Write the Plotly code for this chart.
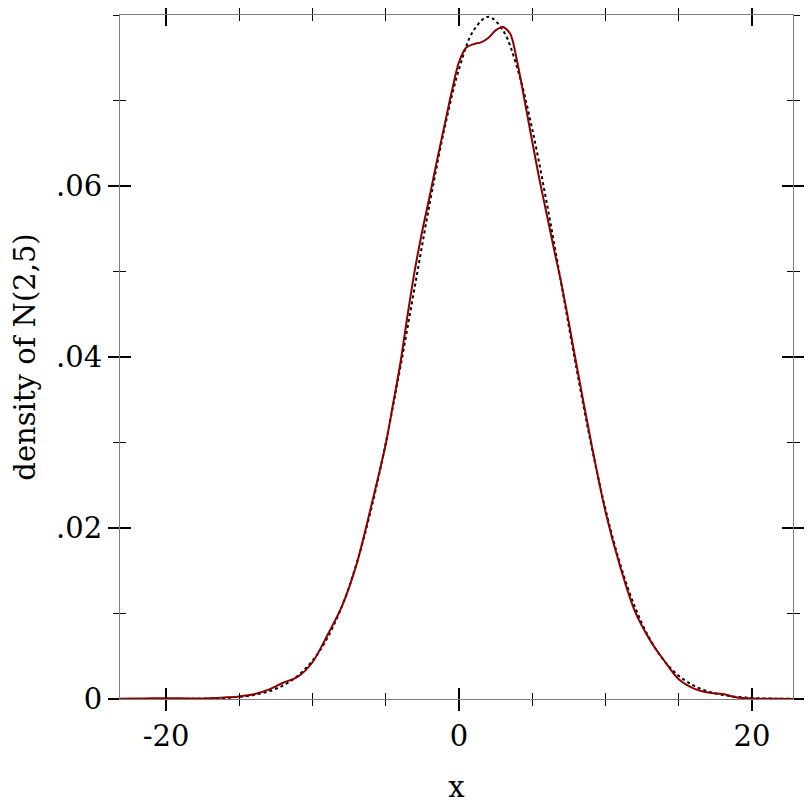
import plotly.graph_objects as go

# dotted reference curve: density of N(2,5) read at integer x
norm_x = [-23.14, -22, -21, -20, -19, -18, -17, -16, -15, -14, -13, -12, -11, -10, -9, -8, -7, -6, -5,
          -4, -3, -2, -1, 0, 1, 2, 3, 4, 5, 6, 7, 8, 9, 10, 11, 12, 13, 14, 15, 16, 17,
          18, 19, 20, 21, 22, 22.8]
norm_y = [0.0000002, 0.0000008, 0.000002, 0.000005, 0.0000118, 0.0000268, 0.0000584, 0.000122, 0.000246,
          0.000477, 0.000886, 0.001583, 0.002717, 0.004479, 0.007095, 0.010798, 0.015790, 0.022184,
          0.029945, 0.038837, 0.048394, 0.057938, 0.066645, 0.073654, 0.078209, 0.079788, 0.078209,
          0.073654, 0.066645, 0.057938, 0.048394, 0.038837, 0.029945, 0.022184, 0.015790, 0.010798,
          0.007095, 0.004479, 0.002717, 0.001583, 0.000886, 0.000477, 0.000246, 0.000122, 0.0000584,
          0.0000268, 0.000013]

# estimated density (red)
kde_x = [-23.14, -22, -21, -20, -19, -18, -17, -16, -15, -14, -13, -12, -11, -10, -9, -8, -7, -6, -5,
         -4.5, -4, -3.5, -3, -2.5, -2, -1.5, -1, -0.5, 0, 0.5, 1, 1.5, 2, 2.5, 3, 3.5, 4, 4.5, 5,
         5.5, 6, 6.5, 7, 7.5, 8, 9, 10, 11, 12, 13, 14, 15, 16, 17, 18, 19, 20, 21, 22, 22.8]
kde_y = [0.00003, 0.00005, 0.00008, 0.00010, 0.00008, 0.00007, 0.00010, 0.00018, 0.00030, 0.00055,
         0.0011, 0.0019, 0.0026, 0.0043, 0.0074, 0.0108, 0.0157, 0.0225, 0.0298, 0.0345, 0.0393,
         0.0450, 0.0503, 0.0548, 0.0588, 0.0630, 0.0670, 0.0710, 0.0745, 0.0762, 0.0766, 0.0768,
         0.0773, 0.0782, 0.0786, 0.0778, 0.0743, 0.0698, 0.0652, 0.0607, 0.0566, 0.0525, 0.0485,
         0.0440, 0.0393, 0.0302, 0.0219, 0.0155, 0.0103, 0.0070, 0.0045, 0.0023, 0.00125, 0.00075,
         0.00058, 0.00018, 0.00005, 0.00003, 0.00002, 0.00001]

x_ticks = [-20, 0, 20]
x_ticklabels = ["-20", "0", "20"]
y_ticks = [0, 0.02, 0.04, 0.06]
y_ticklabels = ["0", ".02", ".04", ".06"]

x_range = [-23.14, 22.8]
y_range = [0, 0.08]

FONT = "DejaVu Serif"
FS = 29

fig = go.Figure()
fig.add_trace(go.Scatter(x=norm_x, y=norm_y, mode="lines",
                         line=dict(color="black", width=2, dash="dot", shape="spline"),
                         showlegend=False, hoverinfo="skip"))
fig.add_trace(go.Scatter(x=kde_x, y=kde_y, mode="lines",
                         line=dict(color="#8b0000", width=2, shape="spline", smoothing=0.8),
                         showlegend=False, hoverinfo="skip"))
fig.add_trace(go.Scatter(x=[None], y=[None], xaxis="x2", yaxis="y2", showlegend=False))

common_x = dict(range=x_range, tickvals=x_ticks, showgrid=False, zeroline=False, automargin=False,
                tickcolor="black", tickwidth=2, ticklen=11,
                minor=dict(dtick=5, tick0=0, ticklen=6, tickwidth=1, tickcolor="black"))
common_y = dict(range=y_range, tickvals=y_ticks, showgrid=False, zeroline=False, automargin=False,
                tickcolor="black", tickwidth=2, ticklen=11,
                minor=dict(dtick=0.01, tick0=0, ticklen=6, tickwidth=1, tickcolor="black"))

fig.update_layout(
    width=812, height=812,
    margin=dict(l=112, r=27, t=7, b=121),
    paper_bgcolor="white", plot_bgcolor="white",
    font=dict(family=FONT, size=FS, color="black"),
    xaxis=dict(**common_x, ticktext=x_ticklabels, ticks="outside", mirror="allticks",
               showline=True, linecolor="#7f7f7f", linewidth=1,
               title=dict(text="x", standoff=24, font=dict(family=FONT, size=FS)),
               tickfont=dict(family=FONT, size=FS)),
    yaxis=dict(**common_y, ticktext=y_ticklabels, ticks="outside", mirror="allticks",
               showline=True, linecolor="#7f7f7f", linewidth=1,
               title=dict(text="density of N(2,5)", standoff=14, font=dict(family=FONT, size=FS)),
               tickfont=dict(family=FONT, size=FS)),
    xaxis2=dict(**common_x, overlaying="x", anchor="y2", side="bottom", ticks="inside",
                mirror="allticks", showticklabels=False, showline=False),
    yaxis2=dict(**common_y, overlaying="y", anchor="x2", side="left", ticks="inside",
                mirror="allticks", showticklabels=False, showline=False),
)
fig.layout.xaxis.minor.ticks = "outside"
fig.layout.yaxis.minor.ticks = "outside"
fig.layout.xaxis2.minor.ticks = "inside"
fig.layout.yaxis2.minor.ticks = "inside"

fig.write_html("out.html")
